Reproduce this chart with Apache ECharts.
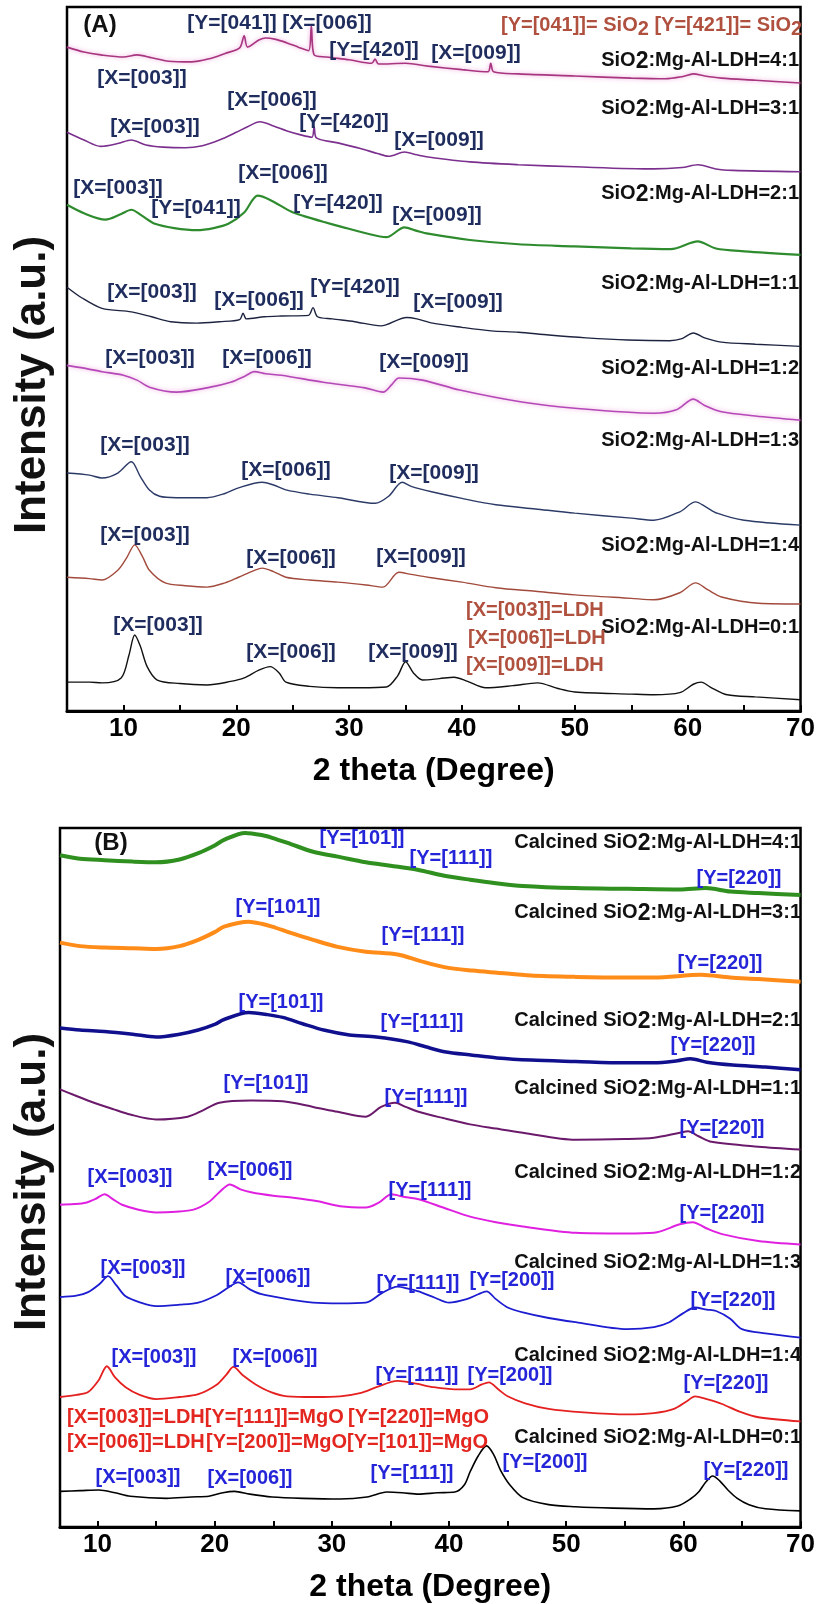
<!DOCTYPE html>
<html>
<head>
<meta charset="utf-8">
<script src="https://cdn.jsdelivr.net/npm/echarts@6/dist/echarts.min.js"></script>
<style>
  html, body { margin: 0; padding: 0; background: #fff; }
  #chart { width: 818px; height: 1604px; }
</style>
</head>
<body>
<div id="chart"></div>
<script>
// ---------- XRD patterns, panel A (as-synthesised), 2θ in degrees vs stacked intensity (a.u.) ----------
const A_4to1 = [[5,94.3],[6.5,93.6],[8,93.2],[10,92.9],[11.2,93.2],[12.5,92.8],[14,92.3],[16,92.2],[17.5,92.6],[19,93.4],[20.3,94.2],[20.7,95.9],[21,94.3],[22,95.3],[22.6,95.6],[23.5,95.4],[24.5,94.9],[25.5,94.3],[26.4,93.8],[26.65,97.3],[26.9,93.2],[28,92.9],[30,92.5],[32,92.0],[32.3,92.6],[32.6,91.9],[35,92.0],[37,91.6],[40,91.1],[42.3,90.8],[42.55,92.0],[42.8,90.8],[45,90.5],[50,90.2],[55,89.9],[58,89.8],[59.5,90.1],[60.5,90.5],[61.5,90.2],[63,89.9],[66,89.6],[70,89.2]];
const A_3to1 = [[5,82.2],[6.5,81.1],[8,80.2],[9.5,80.6],[10.7,81.1],[12,80.4],[13.5,80.1],[15.5,80.0],[17,80.3],[18.5,81.1],[20,82.2],[21,83.0],[22.1,83.7],[23.3,83.1],[24.5,82.4],[25.8,81.8],[26.7,81.5],[26.9,83.0],[27.1,81.4],[29,80.7],[31,79.9],[32.5,79.2],[33.5,78.8],[34.9,79.4],[36,79.0],[37,78.7],[40.7,78.0],[45,77.6],[50,77.3],[57,77.0],[59.5,77.2],[60.9,77.6],[62.5,77.0],[64,76.8],[70,76.6]];
const A_2to1 = [[5,71.9],[6.5,70.7],[8.4,69.8],[9.8,70.6],[10.7,71.2],[11.6,70.4],[12.8,69.2],[14.5,68.6],[16.5,68.3],[18,68.6],[19.3,69.2],[20.7,70.8],[21.9,73.2],[23,72.6],[24.9,70.9],[26,70.3],[27.7,69.5],[29.5,68.7],[31.4,67.9],[33.3,67.3],[34.9,68.7],[36,68.2],[37,67.8],[40.7,66.9],[45,66.3],[50,66.0],[55,65.7],[58.5,65.6],[60.9,66.7],[62.5,65.7],[65,65.3],[70,64.8]];
const A_1to1 = [[5,60.2],[6.3,58.7],[8.1,57.2],[10.7,56.7],[12.5,56.0],[14.2,55.3],[16.5,55.1],[18.5,55.3],[20.3,55.6],[20.6,56.5],[20.9,55.7],[22.5,56.0],[24,56.1],[26.4,56.2],[26.8,57.3],[27.2,56.0],[28.5,55.7],[30.5,55.3],[32.8,54.7],[35.1,55.9],[36,55.7],[37.4,55.1],[40,54.5],[42.6,54.0],[45,53.8],[47.7,53.4],[51,53.0],[54.7,52.7],[58.4,52.6],[59.5,52.9],[60.5,53.7],[61.5,53.0],[63,52.4],[66,52.1],[70,51.8]];
const A_1to2 = [[5,49.1],[6.5,48.7],[8.1,48.2],[10,47.7],[11.2,47.0],[12.3,46.0],[14.7,45.3],[17.4,45.9],[19.5,46.7],[20.8,47.6],[21.6,48.2],[22.6,47.9],[24,47.7],[27.7,46.7],[31.4,45.9],[33,45.3],[33.8,46.4],[34.4,47.3],[36.5,47.0],[39.8,45.6],[45.3,43.9],[50,43.0],[57,42.3],[59,42.8],[60.5,44.3],[61.5,43.4],[63,42.5],[66,41.9],[70,41.3]];
const A_1to3 = [[5,33.8],[7,33.5],[8.1,33.1],[9.5,33.8],[10.7,35.4],[11.5,33.3],[12.3,31.4],[13.2,30.5],[14.7,30.3],[17.4,30.3],[19,30.9],[20.2,31.7],[22.3,32.5],[23.3,32.1],[24.4,31.4],[26.5,30.8],[29,30.3],[32.3,29.5],[33.5,30.5],[34.7,32.5],[35.5,31.9],[37.4,31.1],[40,30.2],[43,29.3],[46.5,28.7],[50,28.1],[55,27.4],[57,27.1],[59.3,28.3],[60.7,29.7],[61.6,29.0],[62.6,28.1],[65,27.1],[70,26.4]];
const A_1to4 = [[5,19.0],[7,18.8],[8.1,18.6],[9.5,20.0],[10.3,21.8],[11,23.6],[11.7,21.9],[12.3,20.0],[13.7,18.2],[15.5,17.8],[17.4,17.6],[19,18.2],[20.2,19.0],[21.5,19.9],[22.3,20.3],[23.3,19.8],[24.4,19.0],[26.5,18.6],[29,18.3],[31.5,17.9],[33,17.6],[34.4,19.7],[35.5,19.4],[37,19.0],[40,18.3],[43,17.5],[46.5,17.0],[50,16.5],[55,16.0],[57,15.8],[59.3,16.8],[60.7,18.2],[61.8,17.2],[63,16.2],[66.3,15.3],[70,15.2]];
const A_0to1 = [[5,4.1],[7,4.1],[8.1,4.0],[9.8,4.7],[10.5,8.0],[11,10.8],[11.5,9.2],[12.1,6.3],[13,4.4],[15,3.9],[17.4,3.7],[19.5,4.2],[20.7,4.7],[22,5.8],[23,6.3],[23.8,5.4],[24.4,4.1],[26.5,3.5],[29,3.3],[31,3.3],[33.3,3.4],[34.3,5.0],[35,7.0],[35.7,5.4],[36.5,4.4],[38,4.6],[39.3,4.8],[40.5,4.2],[42.1,3.3],[44.5,3.6],[46.7,4.0],[48.5,3.2],[50,2.7],[55,2.4],[57,2.3],[59.3,2.6],[60.5,3.8],[61.2,4.1],[62,3.4],[63.5,2.3],[66,2.0],[70,1.6]];

// ---------- panel B (calcined) ----------
const B_4to1 = [[6.8,96.1],[8.5,95.6],[10.6,95.4],[13,95.2],[15,95.1],[17,95.5],[18.6,96.4],[20,97.5],[20.8,98.3],[22.6,99.3],[24,99.0],[24.9,98.6],[26.5,97.7],[28.4,96.6],[30.5,95.9],[32.9,95.1],[35,94.6],[37.4,94.0],[39.5,93.2],[41.8,92.6],[44,92.1],[46.3,91.7],[50.8,91.4],[55.2,91.3],[59.7,91.2],[61.9,91.4],[64,90.9],[66.4,90.7],[70,90.4]];
const B_3to1 = [[6.8,83.6],[8.5,83.1],[10.6,82.9],[13,82.8],[15,82.7],[17,83.1],[18.6,84.0],[20,85.1],[20.8,85.9],[22.9,86.6],[24,86.3],[24.9,85.9],[26.5,85.0],[28.4,84.0],[30.5,83.0],[32.9,82.3],[35.6,81.9],[37.5,81.0],[39.6,80.1],[42,79.6],[44.1,79.3],[47,78.9],[50.8,78.7],[55,78.6],[57.5,78.6],[61.5,79.0],[64,78.6],[66.4,78.4],[70,78.0]];
const B_2to1 = [[6.8,71.4],[8.5,71.1],[10.6,70.9],[13,70.5],[15,70.1],[17,70.5],[18.6,71.1],[20,71.9],[20.8,72.6],[22.9,73.6],[24.5,73.3],[25.8,72.9],[27.5,72.0],[29.3,71.1],[31.5,70.4],[33.8,70.1],[36.5,69.4],[38,68.7],[39.6,68.0],[42,67.5],[44.1,67.1],[47,66.8],[50.8,66.6],[55,66.4],[57.5,66.4],[59.5,66.7],[60.6,67.0],[62,66.5],[64.2,66.1],[67,65.8],[70,65.4]];
const B_1to1 = [[6.8,62.6],[8,61.8],[9.7,60.7],[11.3,59.8],[12.8,59.0],[15,58.3],[17.7,58.7],[19,59.6],[20.4,60.7],[23.1,61.0],[25.8,60.9],[28.4,60.1],[30.5,59.4],[32.9,58.7],[34.2,60.1],[35.4,60.7],[36.3,60.1],[37.4,59.4],[39.5,58.5],[41.8,57.6],[44,57.0],[46.3,56.4],[50.8,55.4],[55,55.5],[57.5,55.7],[59.7,56.4],[60.4,56.6],[61.3,55.9],[62.4,55.1],[66.4,54.4],[70,54.0]];
const B_1to2 = [[6.8,46.1],[8,46.2],[9,46.4],[9.9,47.0],[10.6,47.6],[11.3,46.9],[12.1,46.1],[13.5,45.4],[15,45.0],[16.7,45.1],[18.2,45.4],[19.5,46.5],[20.4,47.9],[21.3,49.0],[22.2,48.3],[23.1,47.9],[25,47.4],[26.7,47.1],[28.8,46.6],[30.7,45.9],[32.9,45.7],[34,46.4],[35.1,47.6],[36.2,47.2],[37.4,46.9],[39.5,45.7],[41.8,44.4],[44,43.6],[46.3,43.0],[50.8,42.1],[55,42.0],[57.5,42.1],[59.7,43.3],[60.8,43.6],[62,42.7],[63.3,41.9],[66.4,40.9],[70,40.4]];
const B_1to3 = [[6.8,32.9],[8.2,33.1],[9.2,33.6],[10.2,34.8],[10.9,35.9],[11.6,34.6],[12.4,33.0],[13.7,32.1],[15,31.6],[17,31.8],[18.6,32.1],[20.2,33.2],[21.2,34.3],[22,35.0],[23,34.0],[24,33.3],[26.2,32.6],[28.4,32.1],[30.7,32.0],[32.9,32.1],[34.3,33.5],[35.6,34.4],[36.5,34.1],[37.4,33.7],[38.8,32.8],[40,32.1],[41.5,32.6],[42.5,33.3],[43.2,33.7],[44,32.6],[45,31.4],[46.3,30.7],[48.5,29.9],[50.8,29.3],[55.2,28.3],[57.5,28.6],[58.8,29.3],[60,30.6],[61,31.4],[62,31.1],[62.8,30.9],[64,29.8],[65,28.3],[67,27.7],[70,27.1]];
const B_1to4 = [[6.8,18.6],[8.2,18.9],[9.2,19.3],[10.1,21.0],[10.8,23.0],[11.5,21.4],[12.4,20.0],[13.6,18.9],[15,18.3],[17,18.6],[18.6,19.0],[20.2,20.4],[21,21.8],[21.6,22.9],[22.4,21.7],[23.5,20.4],[24.8,19.3],[26.2,18.7],[28.5,18.6],[30.7,18.7],[32.5,19.2],[33.8,20.0],[35.6,20.9],[37.2,20.5],[38.7,20.0],[40.5,19.7],[41.8,19.7],[42.8,20.4],[43.4,20.7],[44.2,19.7],[45,18.7],[46.5,17.7],[48.5,16.9],[51.5,16.4],[55.2,16.1],[57.5,16.3],[59.2,16.9],[60.3,18.0],[61,18.7],[62,18.3],[63.3,17.6],[64.8,16.5],[66.4,15.7],[70,15.1]];
const B_0to1 = [[6.8,5.1],[8.5,5.2],[10.1,5.3],[11.5,4.9],[12.8,4.4],[15.9,4.1],[18,4.3],[19.5,4.4],[20.7,4.9],[21.7,5.1],[23,4.7],[24.9,4.3],[27.5,4.1],[30.7,4.0],[33,4.3],[34.7,5.0],[36,4.9],[37.4,4.7],[39,4.9],[40.5,5.0],[41.3,6.0],[41.8,7.9],[42.5,10.2],[43.2,11.6],[43.8,10.4],[44.4,8.1],[45.2,6.0],[46.3,4.2],[48.5,3.2],[50.8,2.9],[54,2.7],[57.5,2.6],[59.5,3.0],[60.6,4.0],[61.3,5.0],[61.9,6.4],[62.5,7.3],[63.1,6.6],[63.8,5.3],[64.6,4.1],[65.6,3.2],[67,2.6],[70,2.3]];

// sample names (top to bottom) and axis tick labels
const ratios = ['4:1', '3:1', '2:1', '1:1', '1:2', '1:3', '1:4', '0:1'];
const ticksA = [10, 15, 20, 25, 30, 35, 40, 45, 50, 55, 60, 65, 70];
const ticksB = [10, 15, 20, 25, 30, 35, 40, 45, 50, 55, 60, 65, 70];
const labelsX = [10, 20, 30, 40, 50, 60, 70];

const seriesA = [A_4to1, A_3to1, A_2to1, A_1to1, A_1to2, A_1to3, A_1to4, A_0to1];
const seriesB = [B_4to1, B_3to1, B_2to1, B_1to1, B_1to2, B_1to3, B_1to4, B_0to1];

// line styles
const colorsA = ['#a8357f', '#7b2f8e', '#2e8b2e', '#1e2440', '#b548b8', '#2b3a66', '#a24a3c', '#111111'];
const widthsA = [1.6, 1.6, 2.2, 1.4, 1.6, 1.4, 1.4, 1.4];
const colorsB = ['#2f8f1f', '#ff8c19', '#10108f', '#6b1a6b', '#e020e0', '#1c1cd0', '#e52020', '#000000'];
const widthsB = [4, 4, 3.5, 2, 2, 1.8, 1.8, 1.6];

const FONT = '"Liberation Sans", Arial, sans-serif';
const NAVY = '#1f2c5e';
const BLUE = '#2424d8';

// peak annotations: [text, centre x, centre y] in pixels
const peakTagsA = [
  ['[Y=[041]]',232,23], ['[X=[006]]',327,23], ['[Y=[420]]',374,50], ['[X=[009]]',476,53], ['[X=[003]]',142,78],
  ['[X=[006]]',272,100], ['[X=[003]]',155,127], ['[Y=[420]]',344,122], ['[X=[009]]',439,140],
  ['[X=[006]]',283,173], ['[X=[003]]',118,188], ['[Y=[041]]',196,208], ['[Y=[420]]',338,203], ['[X=[009]]',437,215],
  ['[X=[003]]',152,292], ['[X=[006]]',259,300], ['[Y=[420]]',355,287], ['[X=[009]]',458,302],
  ['[X=[003]]',150,358], ['[X=[006]]',267,358], ['[X=[009]]',424,362],
  ['[X=[003]]',145,445], ['[X=[006]]',286,470], ['[X=[009]]',434,473],
  ['[X=[003]]',145,535], ['[X=[006]]',291,558], ['[X=[009]]',421,557],
  ['[X=[003]]',158,625], ['[X=[006]]',291,652], ['[X=[009]]',413,652]
];
const peakTagsB = [
  ['[Y=[101]]',362,838], ['[Y=[111]]',451,858], ['[Y=[220]]',739,878],
  ['[Y=[101]]',278,907], ['[Y=[111]]',423,935], ['[Y=[220]]',720,963],
  ['[Y=[101]]',281,1002], ['[Y=[111]]',422,1022], ['[Y=[220]]',713,1045],
  ['[Y=[101]]',266,1083], ['[Y=[111]]',426,1097], ['[Y=[220]]',722,1128],
  ['[X=[003]]',130,1177], ['[X=[006]]',250,1170], ['[Y=[111]]',430,1190], ['[Y=[220]]',722,1213],
  ['[X=[003]]',143,1268], ['[X=[006]]',268,1277], ['[Y=[111]]',418,1283], ['[Y=[200]]',512,1280], ['[Y=[220]]',733,1300],
  ['[X=[003]]',154,1357], ['[X=[006]]',275,1357], ['[Y=[111]]',417,1375], ['[Y=[200]]',510,1375], ['[Y=[220]]',726,1383],
  ['[X=[003]]',138,1477], ['[X=[006]]',250,1478], ['[Y=[111]]',412,1473], ['[Y=[200]]',545,1462], ['[Y=[220]]',746,1470]
];
const sampleYA = [60, 108, 193, 283, 368, 440, 545, 627];
const sampleYB = [842, 912, 1020, 1088, 1172, 1262, 1355, 1437];

const chart = echarts.init(document.getElementById('chart'), null, { renderer: 'canvas' });

function xAxisFor(gridIndex, min, ticks) {
  return {
    type: 'value', gridIndex, min, max: 70,
    axisLine: { onZero: false, lineStyle: { color: '#000', width: 3 } },
    axisTick: { inside: true, length: 6, customValues: ticks, lineStyle: { color: '#000', width: 2 } },
    axisLabel: { customValues: labelsX, fontSize: 26, fontWeight: 'bold', color: '#000', fontFamily: FONT, margin: 5 },
    splitLine: { show: false },
    name: '2 theta (Degree)', nameLocation: 'middle', nameGap: 44,
    nameTextStyle: { fontSize: 32, fontWeight: 'bold', color: '#000', fontFamily: FONT }
  };
}
function yAxisFor(gridIndex) {
  return { type: 'value', gridIndex, min: 0, max: 100, show: false };
}
function lineSeries(data, color, width, axisIndex, glow) {
  return {
    type: 'line', xAxisIndex: axisIndex, yAxisIndex: axisIndex, data,
    showSymbol: false, smooth: 0.3, animation: false, silent: true,
    lineStyle: Object.assign({ color, width }, glow ? { shadowColor: glow, shadowBlur: 4 } : {})
  };
}

const series = [];
seriesA.forEach((d, i) => series.push(lineSeries(d, colorsA[i], widthsA[i], 0, (i === 0 || i === 4) ? 'rgba(230,120,200,0.7)' : null)));
seriesB.forEach((d, i) => series.push(lineSeries(d, colorsB[i], widthsB[i], 1, null)));

function txt(text, x, y, color, size, align, extra) {
  return Object.assign({
    type: 'text', x, y, z: 100,
    style: { text, fill: color, font: 'bold ' + size + 'px ' + FONT, align: align || 'center', verticalAlign: 'middle' }
  }, extra || {});
}
function richTxt(text, x, y, color, size, align, rich) {
  return {
    type: 'text', x, y, z: 100,
    style: { text, fill: color, font: 'bold ' + size + 'px ' + FONT, align, verticalAlign: 'middle', rich }
  };
}

const graphics = [];
const subRich = {
  b: { fontSize: 20, fontWeight: 'bold', fontFamily: FONT },
  two: { fontSize: 23, fontWeight: 'bold', fontFamily: FONT, padding: [4, 0, 0, 0] }
};
peakTagsA.forEach(t => graphics.push(txt(t[0], t[1], t[2], NAVY, 21)));
peakTagsB.forEach(t => graphics.push(txt(t[0], t[1], t[2], BLUE, 20)));
ratios.forEach((r, i) => {
  graphics.push(richTxt('{b|SiO}{two|2}{b|:Mg-Al-LDH=' + r + '}', 799, sampleYA[i], '#111', 20, 'right', subRich));
  graphics.push(richTxt('{b|Calcined SiO}{two|2}{b|:Mg-Al-LDH=' + r + '}', 801, sampleYB[i], '#111', 20, 'right', subRich));
});

// panel tags and phase keys
graphics.push(txt('(A)', 100, 25, '#111', 24));
graphics.push(txt('(B)', 111, 843, '#111', 24));
const BROWN = '#b0503e';
graphics.push(richTxt('{b|[Y=[041]]= SiO}{s|2}{b| [Y=[421]]= SiO}{s|2}', 501, 25, BROWN, 20, 'left', {
  b: { fontSize: 20, fontWeight: 'bold', fontFamily: FONT, fill: BROWN },
  s: { fontSize: 20, fontWeight: 'bold', fontFamily: FONT, fill: BROWN, padding: [8, 0, 0, 0] }
}));
graphics.push(txt('[X=[003]]=LDH', 466, 610, BROWN, 20, 'left'));
graphics.push(txt('[X=[006]]=LDH', 468, 638, BROWN, 20, 'left'));
graphics.push(txt('[X=[009]]=LDH', 466, 665, BROWN, 20, 'left'));
const RED = '#e3261f';
graphics.push(txt('[X=[003]]=LDH[Y=[111]]=MgO', 67, 1417, RED, 20, 'left'));
graphics.push(txt('[Y=[220]]=MgO', 348, 1417, RED, 20, 'left'));
graphics.push(txt('[X=[006]]=LDH', 67, 1442, RED, 20, 'left'));
graphics.push(txt('[Y=[200]]=MgO', 206, 1442, RED, 20, 'left'));
graphics.push(txt('[Y=[101]]=MgO', 347, 1442, RED, 20, 'left'));

// rotated y-axis titles
graphics.push(txt('Intensity (a.u.)', 33, 385, '#111', 44, 'center', { rotation: Math.PI / 2 }));
graphics.push(txt('Intensity (a.u.)', 33, 1182, '#111', 44, 'center', { rotation: Math.PI / 2 }));

chart.setOption({
  backgroundColor: '#fff',
  animation: false,
  grid: [
    { left: 67, top: 7, width: 737, height: 704, show: true, borderColor: '#000', borderWidth: 2.5, backgroundColor: 'transparent' },
    { left: 60, top: 828, width: 746, height: 700, show: true, borderColor: '#000', borderWidth: 2.5, backgroundColor: 'transparent' }
  ],
  xAxis: [xAxisFor(0, 5, ticksA), xAxisFor(1, 6.8, ticksB)],
  yAxis: [yAxisFor(0), yAxisFor(1)],
  series,
  graphic: { elements: graphics }
});
</script>
</body>
</html>
